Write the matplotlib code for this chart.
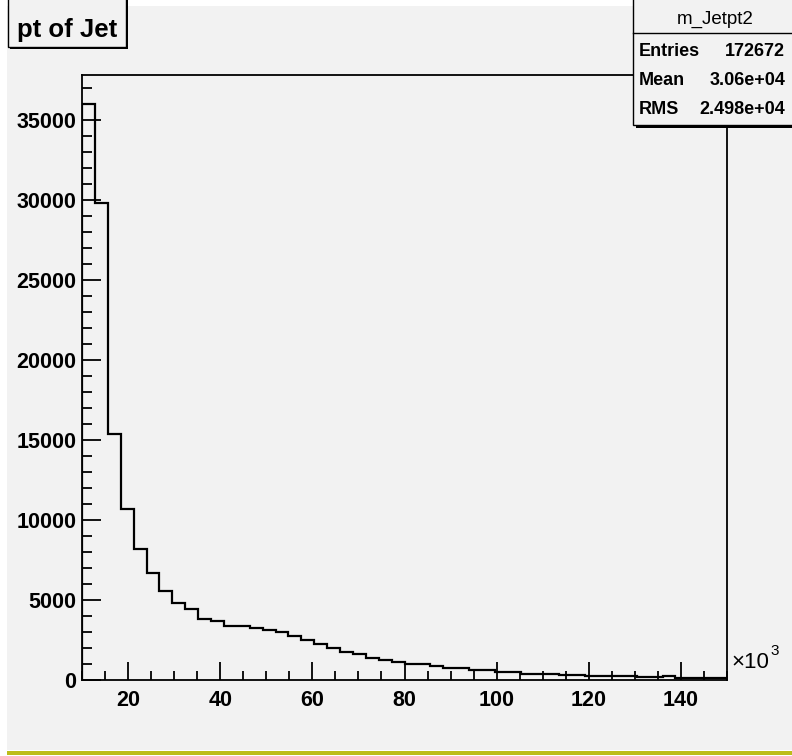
import numpy as np
import matplotlib
matplotlib.use("Agg")
import matplotlib.pyplot as plt
from matplotlib.patches import Rectangle
from matplotlib.ticker import MultipleLocator

# Histogram of jet pT (x in units of 10^3), 50 equal bins from 10 to 150
x_min, x_max, n_bins = 10.0, 150.0, 50
counts = [36000, 29800, 15400, 10700, 8190, 6670, 5540, 4800, 4420, 3800,
          3670, 3380, 3380, 3250, 3120, 3020, 2770, 2520, 2270, 2020,
          1770, 1650, 1400, 1270, 1150, 1020, 1020, 900, 770, 720,
          620, 600, 500, 470, 400, 380, 370, 340, 290, 280,
          260, 250, 230, 200, 170, 230, 150, 140, 130, 120]
x_ticks = [20, 40, 60, 80, 100, 120, 140]
y_ticks = [0, 5000, 10000, 15000, 20000, 25000, 30000, 35000]

title_text = "pt of Jet"
stats_name = "m_Jetpt2"
stats_rows = [("Entries", "172672"), ("Mean", "3.06e+04"), ("RMS", "2.498e+04")]

W, H = 792, 756
plt.rcParams["font.family"] = ["Liberation Sans", "DejaVu Sans"]

fig = plt.figure(figsize=(W / 100, H / 100), dpi=100, facecolor="white")


def fx(px):
    return px / W


def fy(py):
    return 1 - py / H


# canvas background and bottom stripe (behind the axes)
fig.patches.append(Rectangle((fx(7), fy(750)), fx(W - 7), 744 / H,
                             transform=fig.transFigure, facecolor="#f2f2f2",
                             edgecolor="none", zorder=-10))
fig.patches.append(Rectangle((fx(7), fy(755)), fx(W - 7), 4 / H,
                             transform=fig.transFigure, facecolor="#bdbd1a",
                             edgecolor="none", zorder=-10))

ax_l, ax_r, ax_t, ax_b = 82, 727, 75, 680
ax = fig.add_axes([fx(ax_l), fy(ax_b), fx(ax_r - ax_l), (ax_b - ax_t) / H])
ax.set_zorder(1)
ax.set_facecolor("#f2f2f2")

edges = np.linspace(x_min, x_max, n_bins + 1)
ax.stairs(counts, edges, color="black", linewidth=1.6, baseline=0)

ax.set_xlim(x_min, x_max)
ax.set_ylim(0, 37800)
ax.set_xticks(x_ticks)
ax.set_yticks(y_ticks)
ax.xaxis.set_minor_locator(MultipleLocator(5))
ax.yaxis.set_minor_locator(MultipleLocator(1000))
ax.tick_params(which="both", direction="in", color="black", width=1.3,
               labelsize=15.5, top=False, right=False)
ax.tick_params(axis="x", which="major", length=13, pad=7)
ax.tick_params(axis="x", which="minor", length=6.5)
ax.tick_params(axis="y", which="major", length=14, pad=4)
ax.tick_params(axis="y", which="minor", length=7)
for lab in ax.get_xticklabels() + ax.get_yticklabels():
    lab.set_fontweight("bold")
for s in ax.spines.values():
    s.set_linewidth(1.3)

# axis multiplier
fig.text(fx(731), fy(663), "\u00d710", fontsize=16, ha="left", va="center",
         fontweight="normal", zorder=6)
fig.text(fx(770), fy(651), "3", fontsize=11, ha="left", va="center",
         fontweight="normal", zorder=6)

# title box with shadow
fig.patches.append(Rectangle((fx(10), fy(49)), fx(118), 60 / H,
                             transform=fig.transFigure, facecolor="black",
                             edgecolor="none", zorder=3))
fig.patches.append(Rectangle((fx(8), fy(47)), fx(118), 60 / H,
                             transform=fig.transFigure, facecolor="#f2f2f2",
                             edgecolor="black", linewidth=1, zorder=4))
fig.text(fx(67), fy(30), title_text, fontsize=18.5, ha="center", va="center",
         fontweight="bold", zorder=5)

# statistics box with shadow
fig.patches.append(Rectangle((fx(636), fy(128)), fx(200), 140 / H,
                             transform=fig.transFigure, facecolor="black",
                             edgecolor="none", zorder=3))
fig.patches.append(Rectangle((fx(633), fy(125)), fx(200), 140 / H,
                             transform=fig.transFigure, facecolor="#f2f2f2",
                             edgecolor="black", linewidth=1, zorder=4))
fig.lines.append(plt.Line2D([fx(633), 1], [fy(33), fy(33)],
                            transform=fig.transFigure, color="black",
                            linewidth=1, zorder=5))
fig.text(fx(715), fy(19), stats_name, fontsize=13.5, ha="center", va="center",
         fontweight="normal", zorder=6)
for i, (k, v) in enumerate(stats_rows):
    yy = fy(51 + 29.5 * i)
    fig.text(fx(639), yy, k, fontsize=13, ha="left", va="center",
             fontweight="bold", zorder=6)
    fig.text(fx(785), yy, v, fontsize=13, ha="right", va="center",
             fontweight="bold", zorder=6)

fig.savefig("out.png", dpi=100, facecolor=fig.get_facecolor())
